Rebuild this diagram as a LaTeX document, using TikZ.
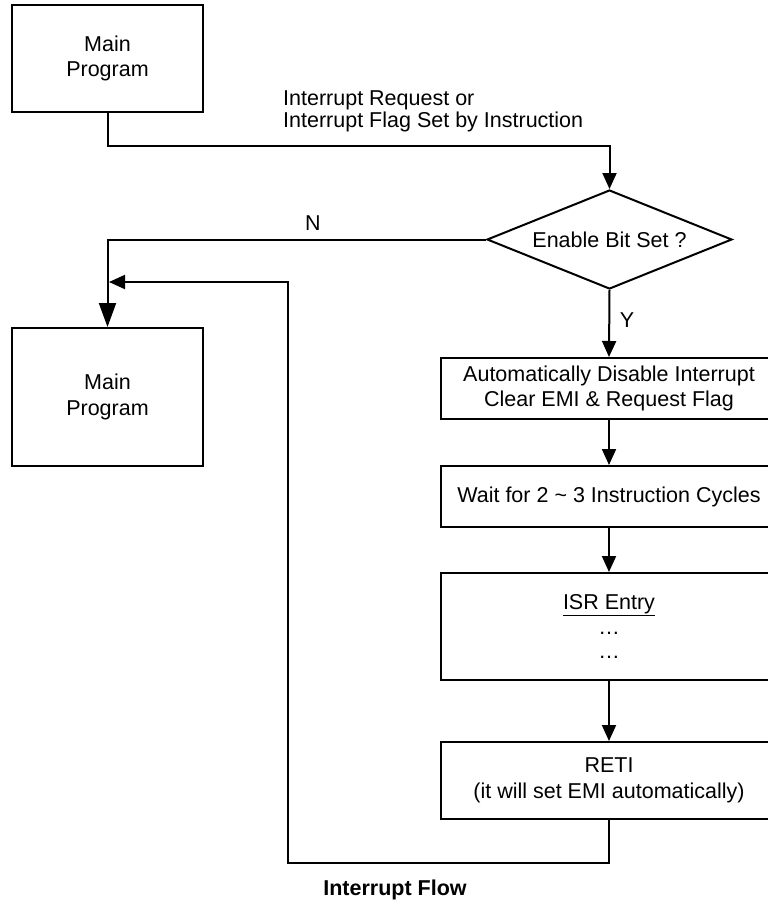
\documentclass[tikz,border=0pt]{standalone}
\usepackage{fontspec}
\setmainfont{Liberation Sans}
\usetikzlibrary{arrows.meta,shapes.geometric}
\newcommand{\fsz}{\fontsize{21.5}{25.7}\selectfont}
\newcommand{\fszt}{\fontsize{21.5}{21.5}\selectfont}
\tikzset{
  box/.style={draw, line width=2pt, minimum width=#1, inner sep=0pt, align=center, font=\fsz},
  arr/.style={line width=2pt, -{Triangle[length=16pt,width=14pt]}},
  bigarr/.style={line width=2pt, -{Triangle[length=24pt,width=17pt]}},
  lbl/.style={inner sep=0pt, font=\fsz},
}
\begin{document}
\begin{tikzpicture}[x=1pt,y=-1pt]
\clip (0,0) rectangle (768,903);
\fill[white] (0,0) rectangle (768,903);
% boxes
\node[box=191pt, minimum height=107pt] (m1) at (107.5,58.5) {Main\\Program};
\node[box=191pt, minimum height=138pt] (m2) at (107.5,397) {Main\\Program};
\node[draw, line width=2pt, shape=diamond, aspect=2.5, minimum width=245pt, minimum height=99pt, inner sep=0pt, font=\fsz] (d) at (609.5,239.5) {Enable Bit Set ?};
\node[box=336pt, minimum height=61pt] (a) at (609,388.5) {Automatically Disable Interrupt\\Clear EMI \& Request Flag};
\node[box=336pt, minimum height=61pt] (b) at (609,496.5) {Wait for 2 \textasciitilde{} 3 Instruction Cycles};
\node[box=336pt, minimum height=107pt] (isr) at (609,626.5) {\underline{ISR Entry}\\[-1pt]…\\[-1pt]…};
\node[box=336pt, minimum height=77pt] (reti) at (609,780.5) {RETI\\(it will set EMI automatically)};
% labels
\node[lbl, anchor=base west, align=left, font=\fszt] (req) at (283,127) {Interrupt Request or\\Interrupt Flag Set by Instruction};
\node[lbl, anchor=base] (nl) at (313,230) {N};
\node[lbl, anchor=base] (yl) at (627,327) {Y};
\node[lbl, anchor=base, font=\fsz\bfseries] (cap) at (395,895) {Interrupt Flow};
% connectors
\coordinate (k1) at (609.5,146);
\draw[arr] (m1.south) |- (k1) -- (d.north);
\draw[bigarr] (d.west) -| (m2.north);
\draw[arr] (d.south) -- (a.north);
\draw[arr] (a.south) -- (b.north);
\draw[arr] (b.south) -- (isr.north);
\draw[arr] (isr.south) -- (reti.north);
\coordinate (r1) at (609,863);
\coordinate (r2) at (288,863);
\coordinate (r3) at (288,282);
\coordinate (r4) at (109,282);
\draw[arr] (reti.south) -- (r1) -- (r2) -- (r3) -- (r4);
\end{tikzpicture}
\end{document}
